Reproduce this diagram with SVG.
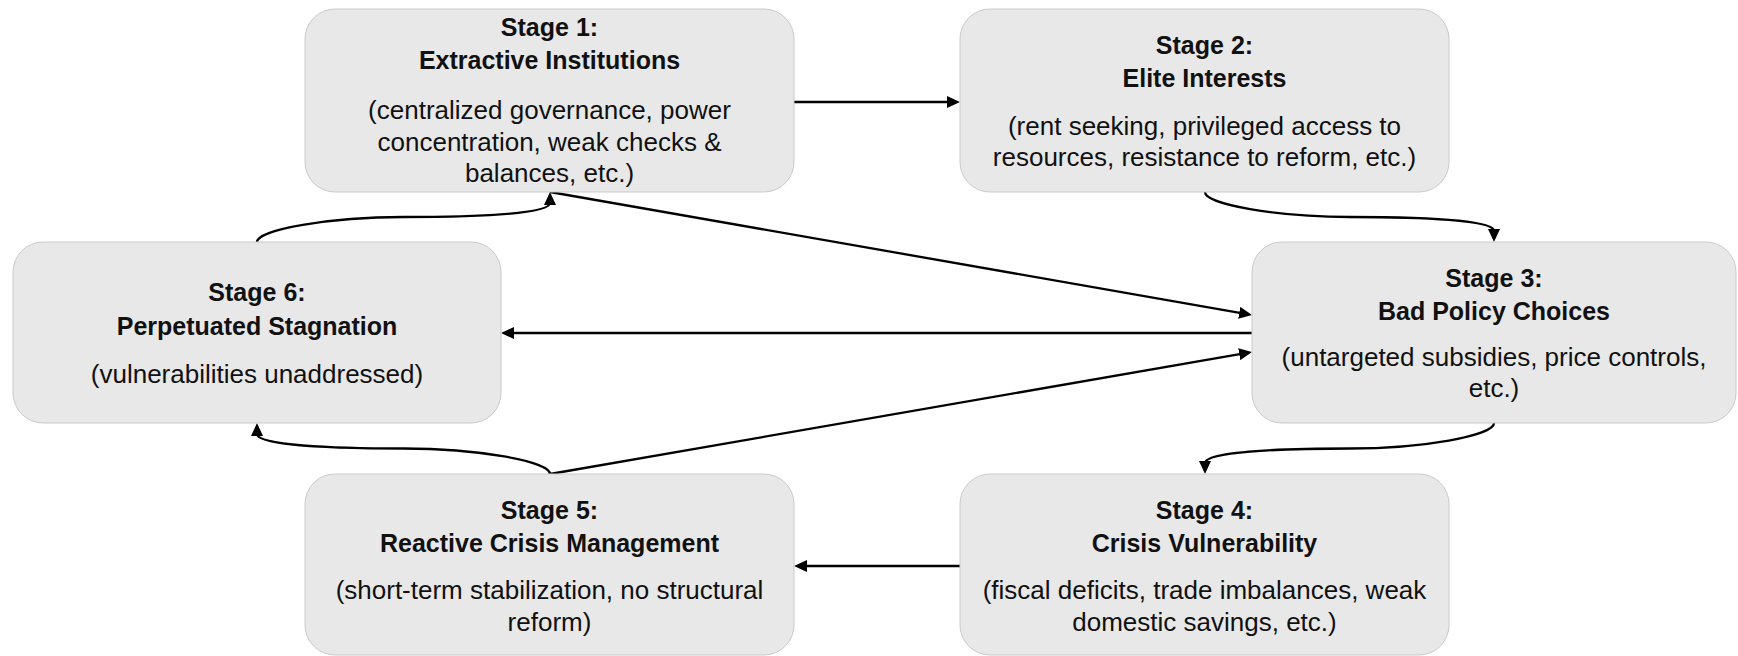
<svg xmlns="http://www.w3.org/2000/svg" width="1738" height="656" viewBox="0 0 1738 656">
<style>
.box{fill:#e8e8e8;stroke:#cacaca;stroke-width:1}
.t{font-family:"Liberation Sans",Arial,sans-serif;font-weight:bold;font-size:25px;fill:#111;text-anchor:middle}
.d{font-family:"Liberation Sans",Arial,sans-serif;font-size:26px;fill:#111;text-anchor:middle}
.c{fill:none;stroke:#000;stroke-width:2.3;marker-end:url(#ah)}
</style>
<defs>
<marker id="ah" markerUnits="userSpaceOnUse" markerWidth="13" markerHeight="12" refX="2" refY="6" orient="auto">
<path d="M0,0 L13,6 L0,12 z" fill="#000"/>
</marker>
</defs>
<rect width="1738" height="656" fill="#fff"/>
<g id="connectors">
<path class="c" d="M794,102 L949,102"/>
<path class="c" d="M1205,192 C1205,204.5 1277,217 1349.5,217 C1422,217 1494,220 1494,231"/>
<path class="c" d="M1494,423 C1494,435.75 1421.75,448.5 1349.5,448.5 C1277.25,448.5 1205,452 1205,463"/>
<path class="c" d="M960,566 L805,566"/>
<path class="c" d="M550,474 C550,461.25 476.75,448.5 403.5,448.5 C330.25,448.5 257,445 257,434"/>
<path class="c" d="M550,474 L1241.2,353.9"/>
<path class="c" d="M257,242 C257,229.5 330.25,217 403.5,217 C476.75,217 550,214 550,203"/>
<path class="c" d="M550,192 L1241.2,313.1"/>
<path class="c" d="M1252,333 L512,333"/>
</g>
<g id="stage1">
<rect class="box" x="305" y="9" width="489" height="183" rx="30"/>
<text class="t" x="549.5" y="36">Stage 1:</text>
<text class="t" x="549.5" y="69">Extractive Institutions</text>
<text class="d" x="549.5" y="119">(centralized governance, power</text>
<text class="d" x="549.5" y="150.5">concentration, weak checks &amp;</text>
<text class="d" x="549.5" y="182">balances, etc.)</text>
</g>
<g id="stage2">
<rect class="box" x="960" y="9" width="489" height="183" rx="30"/>
<text class="t" x="1204.5" y="54">Stage 2:</text>
<text class="t" x="1204.5" y="87">Elite Interests</text>
<text class="d" x="1204.5" y="135">(rent seeking, privileged access to</text>
<text class="d" x="1204.5" y="166">resources, resistance to reform, etc.)</text>
</g>
<g id="stage3">
<rect class="box" x="1252" y="242" width="484" height="181" rx="30"/>
<text class="t" x="1494" y="287">Stage 3:</text>
<text class="t" x="1494" y="320">Bad Policy Choices</text>
<text class="d" x="1494" y="366">(untargeted subsidies, price controls,</text>
<text class="d" x="1494" y="397">etc.)</text>
</g>
<g id="stage4">
<rect class="box" x="960" y="474" width="489" height="181" rx="30"/>
<text class="t" x="1204.5" y="519">Stage 4:</text>
<text class="t" x="1204.5" y="552">Crisis Vulnerability</text>
<text class="d" x="1204.5" y="599">(fiscal deficits, trade imbalances, weak</text>
<text class="d" x="1204.5" y="630.5">domestic savings, etc.)</text>
</g>
<g id="stage5">
<rect class="box" x="305" y="474" width="489" height="181" rx="30"/>
<text class="t" x="549.5" y="519">Stage 5:</text>
<text class="t" x="549.5" y="552">Reactive Crisis Management</text>
<text class="d" x="549.5" y="599">(short-term stabilization, no structural</text>
<text class="d" x="549.5" y="630.5">reform)</text>
</g>
<g id="stage6">
<rect class="box" x="13" y="242" width="488" height="181" rx="30"/>
<text class="t" x="257" y="301">Stage 6:</text>
<text class="t" x="257" y="335">Perpetuated Stagnation</text>
<text class="d" x="257" y="383">(vulnerabilities unaddressed)</text>
</g>
</svg>
